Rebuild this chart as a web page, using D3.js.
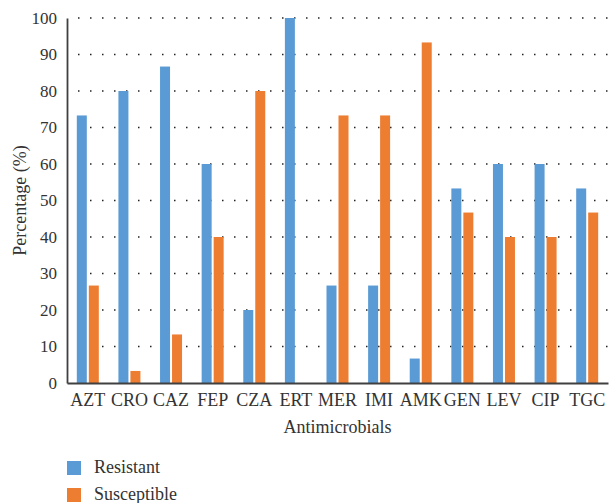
<!DOCTYPE html>
<html>
<head>
<meta charset="utf-8">
<script src="https://cdn.jsdelivr.net/npm/d3@7"></script>
<style>
  html, body { margin: 0; padding: 0; background: #fff; }
  svg text { font-family: "Liberation Serif", "Times New Roman", serif; fill: #333; }
</style>
</head>
<body>
<svg id="chart" width="611" height="503"></svg>
<script>
// Antimicrobial susceptibility profile (% of isolates)
const categories = ["AZT", "CRO", "CAZ", "FEP", "CZA", "ERT", "MER", "IMI", "AMK", "GEN", "LEV", "CIP", "TGC"];
const resistant = [73.3, 80, 86.7, 60, 20, 100, 26.7, 26.7, 6.7, 53.3, 60, 60, 53.3];
const susceptible = [26.7, 3.3, 13.3, 40, 80, 0, 73.3, 73.3, 93.3, 46.7, 40, 40, 46.7];
const yTicks = [0, 10, 20, 30, 40, 50, 60, 70, 80, 90, 100];
const seriesNames = ["Resistant", "Susceptible"];
const colors = ["#5B9BD5", "#ED7D31"];

const svg = d3.select("#chart");
const margin = { left: 67, right: 3, top: 18, bottom: 120 };
const width = 611, height = 503;
const x0 = margin.left, x1 = width - margin.right;
const yTop = margin.top, yBot = height - margin.bottom;

const x = d3.scaleBand().domain(categories).range([x0, x1]).padding(0);
const y = d3.scaleLinear().domain([0, 100]).range([yBot, yTop]);
const barW = 10, barGap = 2;

// dotted gridlines
svg.append("g").selectAll("line")
  .data(yTicks.filter(d => d > 0))
  .join("line")
  .attr("x1", x0 + 11).attr("x2", x1)
  .attr("y1", d => y(d)).attr("y2", d => y(d))
  .attr("stroke", "#222").attr("stroke-width", 1.5)
  .attr("stroke-dasharray", "1.5 10.5");

// bars
const series = [resistant, susceptible];
const g = svg.append("g");
series.forEach((vals, si) => {
  g.append("g").selectAll("rect")
    .data(categories.map((c, i) => ({ c, v: vals[i] })))
    .join("rect")
    .attr("x", d => x(d.c) + x.bandwidth() / 2 - barW - barGap / 2 + si * (barW + barGap))
    .attr("y", d => y(d.v))
    .attr("width", barW)
    .attr("height", d => y(0) - y(d.v))
    .attr("fill", colors[si]);
});

// y axis
const yAxis = svg.append("g")
  .attr("transform", `translate(${x0},0)`)
  .call(d3.axisLeft(y).tickValues(yTicks).tickSize(0).tickPadding(10));
yAxis.select(".domain").attr("stroke", "#404040").attr("stroke-width", 1.8);
yAxis.selectAll("text").attr("font-size", 17).attr("fill", "#333")
  .style("font-family", '"Liberation Serif", serif');

// x axis
const xAxis = svg.append("g")
  .attr("transform", `translate(0,${yBot})`)
  .call(d3.axisBottom(x).tickSize(0).tickPadding(10));
xAxis.select(".domain").attr("stroke", "#404040").attr("stroke-width", 1.8);
xAxis.selectAll("text").attr("font-size", 18).attr("fill", "#333")
  .style("font-family", '"Liberation Serif", serif');

// axis titles
svg.append("text")
  .attr("x", (x0 + x1) / 2).attr("y", 433)
  .attr("text-anchor", "middle").attr("font-size", 18)
  .text("Antimicrobials");

svg.append("text")
  .attr("transform", `translate(26,${(yTop + yBot) / 2}) rotate(-90)`)
  .attr("text-anchor", "middle").attr("font-size", 18)
  .text("Percentage (%)");

// legend
const legend = svg.append("g");
seriesNames.forEach((name, i) => {
  const ly = 461 + i * 27;
  legend.append("rect").attr("x", 67).attr("y", ly).attr("width", 14).attr("height", 14).attr("fill", colors[i]);
  legend.append("text").attr("x", 94).attr("y", ly + 12).attr("font-size", 18).text(name);
});
</script>
</body>
</html>
